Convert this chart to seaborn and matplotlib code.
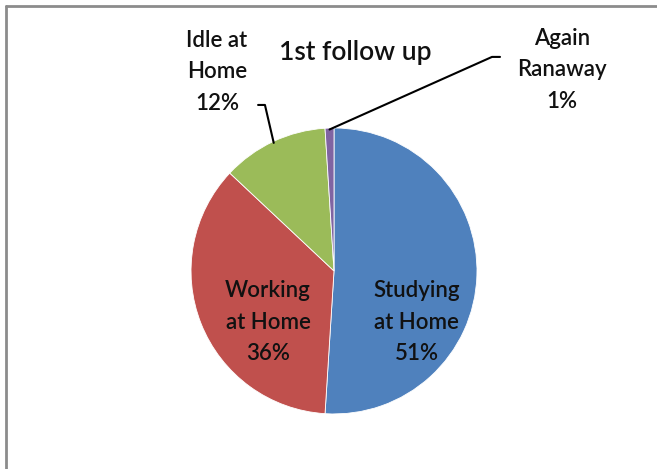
import matplotlib
matplotlib.use("Agg")
import matplotlib.pyplot as plt
import seaborn as sns
import numpy as np
from matplotlib.lines import Line2D

sns.set_theme(style="white")
plt.rcParams['font.family'] = ['Lato', 'DejaVu Sans']

# data
categories = ["Studying\nat Home", "Working\nat Home", "Idle at\nHome", "Again\nRanaway"]
shares = [51, 36, 12, 1]
colors = sns.color_palette(["#4F81BD", "#C0504D", "#9BBB59", "#8064A2"])

fig = plt.figure(figsize=(6.57, 4.69), dpi=100)
ax = fig.add_axes([0, 0, 1, 1])

wedges, _ = ax.pie(shares, colors=colors, startangle=90, counterclock=False,
                   wedgeprops=dict(edgecolor="white", linewidth=0.6))

ax.set_xlim(-2.336, 2.259)
ax.set_ylim(-1.385, 1.895)
ax.set_aspect("equal")
ax.axis("off")

# label positions (layout)
label_pos = [(0.58, -0.357), (-0.462, -0.357), (-0.818, 1.392), (1.594, 1.406)]
for cat, val, (x, y) in zip(categories, shares, label_pos):
    ax.text(x, y, f"{cat}\n{val}%", ha="center", va="center", fontsize=16,
            color="#111111", linespacing=1.62, fontweight="semibold")

# leader lines for outside labels
elbows = {2: [(-0.483, 1.161), (-0.531, 1.161)], 3: [(1.105, 1.497), (1.161, 1.497)]}
for i, pts in elbows.items():
    w = wedges[i]
    mid = np.deg2rad((w.theta1 + w.theta2) / 2)
    edge = (np.cos(mid) * 0.99, np.sin(mid) * 0.99)
    xs = [edge[0]] + [p[0] for p in pts]
    ys = [edge[1]] + [p[1] for p in pts]
    ax.plot(xs, ys, color="black", lw=1.5)

ax.text(0.147, 1.53, "1st follow up", ha="center", va="center", fontsize=19,
        color="#111111", fontweight="semibold")

# chart frame (cropped on right and bottom)
fx, fy = 5.5 / 657, 1 - 6.5 / 469
fig.add_artist(Line2D([fx, 1], [fy, fy], transform=fig.transFigure, color="#8c8c8c", lw=2))
fig.add_artist(Line2D([fx, fx], [0, fy], transform=fig.transFigure, color="#8c8c8c", lw=2))

fig.savefig("out.png", dpi=100)
